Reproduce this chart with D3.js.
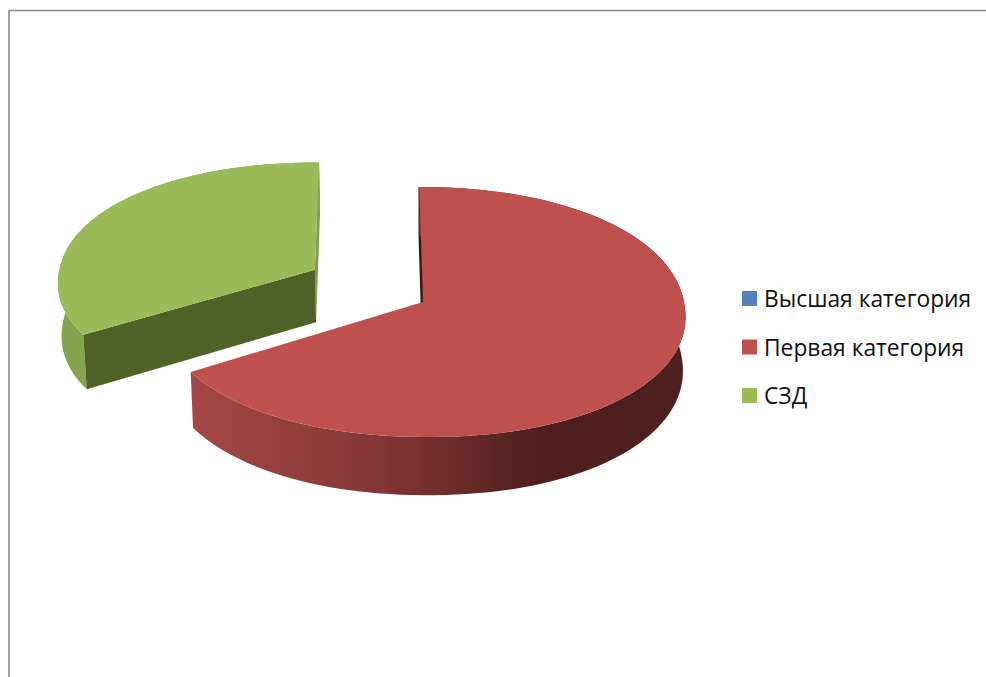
<!DOCTYPE html>
<html>
<head>
<meta charset="utf-8">
<script src="https://cdn.jsdelivr.net/npm/d3@7"></script>
<style>
  html, body { margin: 0; padding: 0; background: #fff; overflow: hidden; }
  text { font-family: "Open Sans", sans-serif; fill: #111; }
</style>
</head>
<body>
<div id="chart"></div>
<script>
// Chart data
const categories = ["Высшая категория", "Первая категория", "СЗД"];
const values = [0, 55, 28];
const colors = ["#4F81BD", "#BE504D", "#9BBB59"];

const W = 986, H = 677;

// Pie projection settings (unit circle -> screen, with a little perspective)
const x0 = 423, y0 = 302;
const rx = 261, ry = 124.2, skew = -4, persp = 0.08, round = 0.95;
const depth = 53.5, shrink = 0.99;

// Pulled out slice: how far it moves and how it flattens further back
const explode = d3.scaleOrdinal().domain(categories).range([0, 0, 0.48]);
const lift = d3.scaleOrdinal().domain(categories).range([0, 0, 0.03]);
const squash = d3.scaleOrdinal().domain(categories).range([1, 1, 0.97]);

const svg = d3.select("#chart").append("svg")
  .attr("width", W)
  .attr("height", H);

// Chart frame
svg.append("path")
  .attr("d", `M${W},10.5H9V${H}`)
  .attr("fill", "none")
  .attr("stroke", "#888")
  .attr("stroke-width", 1.6);

// Side wall gradient for the red slice
const defs = svg.append("defs");
const redGrad = defs.append("linearGradient")
  .attr("id", "redSide")
  .attr("gradientUnits", "userSpaceOnUse")
  .attr("x1", 192).attr("x2", 685).attr("y1", 0).attr("y2", 0);
[[0, "#A44846"], [0.38, "#843634"], [0.58, "#622826"], [0.7, "#4F1F1E"], [1, "#4D1F1E"]]
  .forEach(s => redGrad.append("stop").attr("offset", s[0]).attr("stop-color", s[1]));

const pie = d3.pie().sort(null).startAngle(0).endAngle(2 * Math.PI);
const slices = pie(values).map((s, i) => ({ ...s, i, name: categories[i] }));

// Project a point of the pie (u to the right, v to the back) to the screen
function project(u, v, bottom) {
  const w = 1 + persp * v;
  let x = x0 + (rx * u + skew * v) / w;
  let y = y0 - ry * v / w;
  if (bottom) {
    x = x0 + (x - x0) * shrink;
    y += depth / w;
  }
  return [x, y];
}

// the reference rim is a bit fuller than a true ellipse
const fuller = t => Math.sign(t) * Math.pow(Math.abs(t), round);

function pointAt(s, a, r, bottom) {
  const mid = (s.startAngle + s.endAngle) / 2;
  const e = explode(s.name);
  return project(
    r * fuller(Math.sin(a)) + e * Math.sin(mid),
    r * squash(s.name) * fuller(Math.cos(a)) + e * Math.cos(mid) + lift(s.name),
    bottom
  );
}

const line = d3.line();

function arcPoints(s, from, to, bottom) {
  return d3.range(0, 121).map(k => pointAt(s, from + (to - from) * k / 120, 1, bottom));
}

// Walls and top of one slice, back to front
function drawSlice(s, wallFill, frontFill, backFill, backStroke) {
  const g = svg.append("g");
  const apexT = pointAt(s, 0, 0, false), apexB = pointAt(s, 0, 0, true);

  // radial wall at the slice end that looks away from the viewer
  const backA = s.i === 1 ? s.startAngle : s.endAngle;
  g.append("path")
    .attr("d", line([apexT, pointAt(s, backA, 1, false), pointAt(s, backA, 1, true), apexB]) + "Z")
    .attr("fill", backFill)
    .attr("stroke", backStroke || "none")
    .attr("stroke-width", backStroke ? 1.6 : 0);

  // outer curved wall
  const top = arcPoints(s, s.startAngle, s.endAngle, false);
  const bot = arcPoints(s, s.startAngle, s.endAngle, true).reverse();
  g.append("path")
    .attr("d", line(top.concat(bot)) + "Z")
    .attr("fill", wallFill);

  // radial wall facing the viewer
  if (frontFill) {
    const a = s.i === 2 ? s.startAngle : s.endAngle;
    g.append("path")
      .attr("d", line([apexT, pointAt(s, a, 1, false), pointAt(s, a, 1, true), apexB]) + "Z")
      .attr("fill", frontFill);
  }

  // top face
  g.append("path")
    .attr("d", line([apexT].concat(top)) + "Z")
    .attr("fill", colors[s.i]);
}

drawSlice(slices[2], "#86A44E", "#4F6228", "#7F9A48");
drawSlice(slices[1], "url(#redSide)", null, "#3A1716", "#3A1716");

// Legend
const legendY = d3.scalePoint()
  .domain(categories)
  .range([298.5, 395.5]);

const legend = svg.selectAll(".legend")
  .data(categories)
  .enter()
  .append("g")
  .attr("class", "legend")
  .attr("transform", d => `translate(742,${legendY(d)})`);

legend.append("rect")
  .attr("y", -7.5)
  .attr("width", 15)
  .attr("height", 15)
  .attr("fill", (d, i) => colors[i]);

legend.append("text")
  .attr("x", 22)
  .attr("y", 8.5)
  .style("font-size", "22.8px")
  .text(d => d);
</script>
</body>
</html>
